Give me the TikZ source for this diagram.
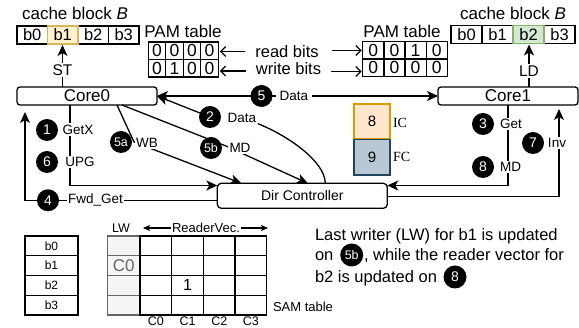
\documentclass[tikz,border=0pt]{standalone}
\usepackage{fontspec}
\setmainfont{Liberation Sans}
\newfontfamily\serifface{Liberation Serif}
\usetikzlibrary{arrows.meta,calc}
\definecolor{yfill}{HTML}{FFF2CC}
\definecolor{ydraw}{HTML}{D6B656}
\definecolor{gfill}{HTML}{D5E8D4}
\definecolor{gdraw}{HTML}{82B366}
\definecolor{icfill}{HTML}{FFE6CC}
\definecolor{icdraw}{HTML}{D79B00}
\definecolor{fcfill}{HTML}{BAC8D3}
\definecolor{fcdraw}{HTML}{23445D}
\definecolor{lwfill}{HTML}{F5F5F5}
\definecolor{lwgray}{HTML}{666666}
\newcommand\fsz[1]{\fontsize{#1}{#1}\selectfont}
\begin{document}
\begin{tikzpicture}[x=1pt,y=1pt,
  every node/.style={inner sep=0pt,outer sep=0pt},
  ln/.style={line width=1.3pt},
  arr/.style={ln,-{Stealth[length=11pt,width=10pt,inset=3pt]}},
  darr/.style={ln,{Stealth[length=11pt,width=10pt,inset=3pt]}-{Stealth[length=11pt,width=10pt,inset=3pt]}},
  oarr/.style={ln,-{Straight Barb[length=5pt,width=10pt]}},
  sarr/.style={line width=1.1pt,-{Stealth[length=7pt,width=6pt,inset=1.5pt]}},
  core/.style={draw,ln,rounded corners=3pt,minimum width=140pt,minimum height=18pt,font=\fsz{17}},
  bit/.style={draw,ln,minimum width=30.5pt,minimum height=18pt,font=\fsz{16.5}},
  pam/.style={draw,ln,minimum height=17.5pt,font=\fsz{17.5}},
  num/.style={circle,fill=black,text=white,minimum size=22pt,font=\fsz{14}},
  lab/.style={fill=white,inner sep=1.5pt,font=\fsz{13.5}},
  tcell/.style={draw,ln,minimum height=19.75pt,font=\fsz{12}},
]
\useasboundingbox (0,0) rectangle (579,-328);

% ---- cache blocks ----
\node[font=\fsz{17}] (tl) at (75,-13) {cache block \textit{B}};
\node[bit] (b0L) at (32.25,-35) {b0};
\node[bit] (b2L) at (93.25,-35) {b2};
\node[bit] (b3L) at (123.75,-35) {b3};
\node[bit,fill=yfill,draw=ydraw] (b1L) at (62.75,-35) {b1};

\node[font=\fsz{17}] (tr) at (513,-13) {cache block \textit{B}};
\node[bit,minimum width=31pt] (b0R) at (466.5,-34.5) {b0};
\node[bit,minimum width=31pt] (b1R) at (497.5,-34.5) {b1};
\node[bit,minimum width=31pt] (b3R) at (559.5,-34.5) {b3};
\node[bit,minimum width=31pt,fill=gfill,draw=gdraw] (b2R) at (528.5,-34.5) {b2};

% ---- PAM tables ----
\node[font=\fsz{17}] (pamtl) at (183,-31) {PAM table};
\foreach \v [count=\i] in {0,0,0,0}
  \node[pam,minimum width=17.5pt] (pa\i) at ({148.3+17.5*(\i-0.5)},-50.75) {\v};
\foreach \v [count=\i] in {0,1,0,0}
  \node[pam,minimum width=17.5pt] (pb\i) at ({148.3+17.5*(\i-0.5)},-68.25) {\v};

\node[font=\fsz{17}] (pamtr) at (402,-31.5) {PAM table};
\foreach \v [count=\i] in {0,0,1,0}
  \node[pam,minimum width=21.15pt] (qa\i) at ({362.7+21.15*(\i-0.5)},-50.5) {\v};
\foreach \v [count=\i] in {0,0,0,0}
  \node[pam,minimum width=21.15pt] (qb\i) at ({362.7+21.15*(\i-0.5)},-67.7) {\v};

\node[font=\fsz{16.5}] (rbits) at (287,-51.5) {read bits};
\node[font=\fsz{16.5}] (wbits) at (288.5,-69) {write bits};
\draw[oarr,shorten <=10pt,shorten >=1.5pt] (rbits.west) -- (rbits.west -| pa4.east);
\draw[oarr,shorten <=10pt,shorten >=1.5pt] ([yshift=-2pt]wbits.west) -- ([yshift=-2pt]wbits.west -| pb4.east);
\draw[oarr,shorten <=13pt,shorten >=1pt] ([yshift=1pt]rbits.east) -- ([yshift=1pt]rbits.east -| qa1.west);
\draw[oarr,shorten <=10pt,shorten >=1pt] ([yshift=-2.5pt]wbits.east) -- ([yshift=-2.5pt]wbits.east -| qb1.west);

% ---- cores and directory ----
\node[core] (core0) at (87,-96) {Core0};
\node[core] (core1) at (508,-96) {Core1};
\node[draw,ln,rounded corners=4pt,minimum width=170pt,minimum height=25pt,font=\fsz{14}] (dir) at (302.3,-195.8) {Dir Controller};

\node[font=\fsz{15.5},inner sep=2pt] (st) at (62.5,-70) {ST};
\draw[ln] (st.south) -- (st.south |- core0.north);
\draw[arr,shorten >=1pt] (st.north) -- (st.north |- b1L.south);
\node[font=\fsz{15.5},inner sep=2pt] (ld) at (529,-71) {LD};
\draw[ln] (ld.south) -- (ld.south |- core1.north);
\draw[arr,shorten >=1pt] (ld.north) -- (ld.north |- b2R.south);

% ---- IC / FC legend ----
\node[draw=icdraw,fill=icfill,ln,minimum width=36pt,minimum height=35pt,font=\fsz{15}] (ic) at (372,-121.5) {8};
\node[draw=fcdraw,fill=fcfill,ln,minimum width=36pt,minimum height=35.5pt,font=\fsz{15}] (fc) at (372,-157.2) {9};
\node[anchor=west,font=\serifface\fsz{14}] (ictxt) at (393,-123) {IC};
\node[anchor=west,font=\serifface\fsz{14}] (fctxt) at (393,-156.5) {FC};

% ---- connectors ----
\coordinate (k0) at ([xshift=-17pt]core0.south);
\draw[arr] (k0) |- ([yshift=10.3pt]dir.west);
\draw[arr,shorten >=7pt] ([yshift=-4.5pt]dir.west) -| ([xshift=-62pt]core0.south);
\draw[arr] (core1.south) |- ([yshift=10.3pt]dir.east);
\draw[arr,shorten >=4pt] ([yshift=-1pt]dir.east) -| ([xshift=51pt]core1.south);
\draw[darr] (core0.east) -- (core1.west);

\coordinate (m5a) at (134,-142);
\draw[arr] ([xshift=30pt]core0.south) -- (m5a) -- ([xshift=-61pt]dir.north);
\coordinate (m5b) at (226,-146);
\draw[arr] ([xshift=35pt]core0.south) -- (m5b) -- ([xshift=5.5pt]dir.north);
\node[lab] (d2) at (242,-118) {Data};
\draw[ln] ([xshift=23pt]dir.north) .. controls +(0,23) and +(40,-12) .. (d2.center);
\node[num] (c2) at (210,-117) {2};
\draw[arr] (c2) -- (core0.east);
\node[lab] (d2b) at (242,-118) {Data};

% ---- connector labels ----
\node[num] (c1) at (47,-130) {1};
\node[lab] (gx) at (78,-129.5) {GetX};
\node[num] (c6) at (47,-162) {6};
\node[lab] (upg) at (80,-162) {UPG};
\node[num] (c4) at (48,-200.3) {4};
\node[lab] (fg) at (95.5,-200.3) {Fwd\_Get};
\node[num] (c3) at (483,-124) {3};
\node[lab] (gt) at (511,-124) {Get};
\node[num] (c8) at (483,-167) {8};
\node[lab] (md8) at (510.5,-167) {MD};
\node[num] (c7) at (533,-143) {7};
\node[lab] (inv) at (557,-143) {Inv};
\node[lab,inner xsep=4pt] (d5) at (294,-96) {Data};
\node[num] (c5) at (261.5,-96) {5};
\node[num,font=\fsz{12.5}] (c5a) at (121,-142) {5a};
\node[lab] (wb) at (147,-143) {WB};
\node[num,font=\fsz{12.5}] (c5b) at (211,-148) {5b};
\node[lab] (md5) at (240,-148) {MD};

% ---- block list and SAM table ----
\foreach \r in {0,...,3}
  \node[tcell,minimum width=53pt] (blk\r) at (51.5,{-245.9-19.75*\r}) {b\r};
\foreach \r in {0,...,3}
  \node[draw=lwgray,fill=lwfill,ln,minimum width=32.7pt,minimum height=19.75pt] (lw\r) at (123.65,{-245.9-19.75*\r}) {};
\foreach \r in {0,...,3}
  \foreach \c in {0,...,3}
    \node[tcell,minimum width=31.7pt] (sc\r\c) at ({155.85+31.7*\c},{-245.9-19.75*\r}) {};
\node[text=lwgray,font=\fsz{17}] (lwval) at (lw1) {C0};
\node[font=\fsz{16}] (rdval) at (sc21) {1};
\foreach \c in {0,...,3}
  \node[font=\fsz{12.5}] (cl\c) at ({155.85+31.7*\c},-321) {C\c};
\node[font=\fsz{12.5}] (lwh) at (121,-228) {LW};
\node[font=\fsz{13},inner xsep=1pt] (rv) at (206,-228) {ReaderVec.};
\coordinate (rvl) at (143,-228);
\coordinate (rvr) at (268,-228);
\draw[sarr] (rv.west) -- (rvl);
\draw[sarr] (rv.east) -- (rvr);
\node[anchor=west,font=\fsz{13}] (samt) at (273,-307) {SAM table};

% ---- note ----
\node[anchor=base west,font=\fsz{16.5}] (p1) at (315,-241) {Last writer (LW) for b1 is updated};
\node[anchor=base west,font=\fsz{16.5}] (p2a) at (315,-261) {on};
\node[num,minimum size=23pt,font=\fsz{12.5}] (c5bt) at (351.7,-255) {5b};
\node[anchor=base west,font=\fsz{16.5}] (p2b) at (364,-261) {, while the reader vector for};
\node[anchor=base west,font=\fsz{16.5}] (p3) at (315,-282.5) {b2 is updated on};
\node[num,minimum size=23pt] (c8t) at (455,-277) {8};
\end{tikzpicture}
\end{document}
